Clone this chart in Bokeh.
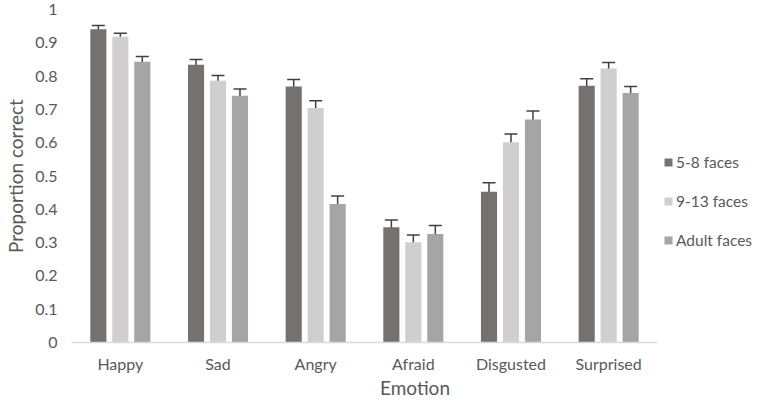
from bokeh.plotting import figure
from bokeh.models import (Range1d, Whisker, TeeHead, ColumnDataSource,
                          Legend, LegendItem, FixedTicker)
from bokeh.embed import file_html
from bokeh.resources import INLINE

emotions = ["Happy", "Sad", "Angry", "Afraid", "Disgusted", "Surprised"]
groups = ["5-8 faces", "9-13 faces", "Adult faces"]
v_5_8 = [0.941, 0.834, 0.769, 0.346, 0.453, 0.771]
e_5_8 = [0.011, 0.016, 0.021, 0.022, 0.027, 0.021]
v_9_13 = [0.918, 0.786, 0.704, 0.301, 0.601, 0.823]
e_9_13 = [0.011, 0.016, 0.022, 0.022, 0.025, 0.018]
v_adult = [0.843, 0.741, 0.416, 0.326, 0.670, 0.749]
e_adult = [0.016, 0.020, 0.024, 0.025, 0.025, 0.020]
y_ticks = [0, 0.1, 0.2, 0.3, 0.4, 0.5, 0.6, 0.7, 0.8, 0.9, 1]

colors = ["#767171", "#d0cece", "#a5a5a5"]
offsets = [-0.225, 0.0, 0.225]
FONT = "Lato"
TXT = "#595959"

n = len(emotions)
centers = [i + 0.5 for i in range(n)]

p = figure(x_range=Range1d(0, n * 687 / 586), y_range=Range1d(0, 1),
           width=758, height=402, output_backend="svg", toolbar_location=None,
           min_border_left=71, min_border_right=0, min_border_top=9, min_border_bottom=60)
p.outline_line_color = None
p.xgrid.grid_line_color = None
p.ygrid.grid_line_color = None
p.background_fill_color = "white"
p.border_fill_color = "white"

series = [(v_5_8, e_5_8), (v_9_13, e_9_13), (v_adult, e_adult)]
renderers = []
for (vals, errs), col, off in zip(series, colors, offsets):
    src = ColumnDataSource(dict(x=[c + off for c in centers], v=vals,
                                lo=[a - b for a, b in zip(vals, errs)],
                                hi=[a + b for a, b in zip(vals, errs)]))
    r = p.vbar(x="x", top="v", width=0.165, source=src,
               fill_color=col, line_color=None)
    renderers.append(r)
    w = Whisker(source=src, base="x", upper="hi", lower="lo",
                line_color="#404040", line_width=1.5,
                upper_head=TeeHead(size=13, line_color="#404040", line_width=1.5),
                lower_head=TeeHead(size=13, line_color="#404040", line_width=1.5))
    p.add_layout(w)

# axes
p.yaxis.ticker = FixedTicker(ticks=y_ticks)
p.yaxis.major_label_overrides = {t: ("0" if t == 0 else ("1" if t == 1 else f"{t:.1f}")) for t in y_ticks}
p.yaxis.axis_line_color = None
p.yaxis.major_tick_line_color = None
p.yaxis.minor_tick_line_color = None
p.yaxis.major_tick_out = 0
p.yaxis.major_tick_in = 0
p.yaxis.major_label_standoff = 14
p.yaxis.axis_label = "Proportion correct"
p.yaxis.axis_label_standoff = 5

p.xaxis.ticker = FixedTicker(ticks=centers)
p.xaxis.major_label_overrides = {c: e for c, e in zip(centers, emotions)}
p.xaxis.bounds = (0, n)
p.xaxis.axis_line_color = "#d9d9d9"
p.xaxis.axis_line_width = 1.5
p.xaxis.major_tick_line_color = None
p.xaxis.minor_tick_line_color = None
p.xaxis.major_tick_out = 0
p.xaxis.major_tick_in = 0
p.xaxis.major_label_standoff = 11
p.xaxis.axis_label = "Emotion"
p.xaxis.axis_label_standoff = 0

for ax in (p.xaxis, p.yaxis):
    ax.major_label_text_font = FONT
    ax.major_label_text_font_size = "16px"
    ax.major_label_text_color = TXT
    ax.axis_label_text_font = FONT
    ax.axis_label_text_font_size = "19px"
    ax.axis_label_text_font_style = "normal"
    ax.axis_label_text_color = TXT

legend = Legend(items=[LegendItem(label=g, renderers=[r]) for g, r in zip(groups, renderers)],
                location=(592, 92))
legend.label_text_font = FONT
legend.label_text_font_size = "15.5px"
legend.label_text_color = TXT
legend.glyph_width = 10
legend.glyph_height = 10
legend.label_height = 20
legend.spacing = 19
legend.label_standoff = 3
legend.padding = 0
legend.margin = 0
legend.border_line_color = None
legend.background_fill_alpha = 0
p.add_layout(legend, "center")

open("out.html", "w").write(file_html(p, INLINE))
